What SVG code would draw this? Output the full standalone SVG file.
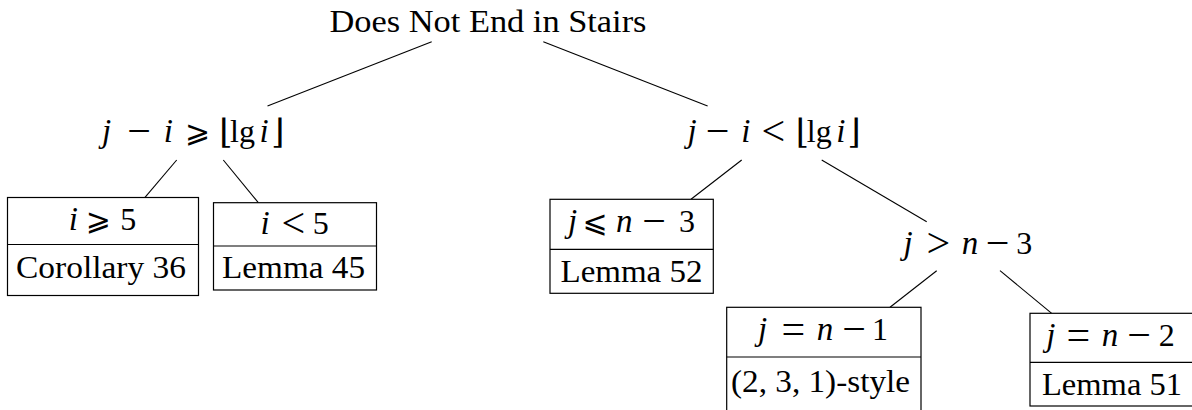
<svg xmlns="http://www.w3.org/2000/svg" width="1192" height="410" viewBox="0 0 1192 410">
<style>
  .t { font-family: "Liberation Serif", "DejaVu Serif", serif; font-size: 32px; fill: #000; }
  .m { font-family: "Liberation Serif", "DejaVu Serif", serif; font-size: 32px; fill: #000; text-anchor: middle; }
  .it { font-style: italic; font-size: 33px; }
  .op { font-size: 42px; }
  .sy { font-family: "DejaVu Serif", "DejaVu Sans", serif; font-size: 30px; }
  .br { font-family: "DejaVu Serif", "DejaVu Sans", serif; font-size: 34px; }
  .box { fill: #fff; stroke: #000; stroke-width: 1.2; }
  .div { stroke: #000; stroke-width: 1.2; }
  .edge { stroke: #000; stroke-width: 1.1; fill: none; }
</style>
<rect width="1192" height="410" fill="#fff"/>

<g id="connectors">
  <line class="edge" x1="431.7" y1="41.7" x2="267.5" y2="106"/>
  <line class="edge" x1="543.3" y1="41.7" x2="707.6" y2="106"/>
  <line class="edge" x1="176.7" y1="160" x2="145" y2="197.3"/>
  <line class="edge" x1="223.3" y1="160" x2="258.3" y2="202.7"/>
  <line class="edge" x1="741.7" y1="160" x2="691" y2="199.3"/>
  <line class="edge" x1="821.7" y1="160" x2="926.7" y2="221.7"/>
  <line class="edge" x1="936.7" y1="270.7" x2="890" y2="307.3"/>
  <line class="edge" x1="1000" y1="270.7" x2="1051.7" y2="313.3"/>
</g>

<g id="root">
  <text class="t" x="488" y="31.5" text-anchor="middle" textLength="317" lengthAdjust="spacingAndGlyphs">Does Not End in Stairs</text>
</g>

<g id="left-mid">
  <text class="m"><tspan class="it" x="106.7" y="141.5">j</tspan><tspan class="op" x="139.2" y="144.5">−</tspan><tspan class="it" x="168.3" y="141.5">i</tspan><tspan class="sy" x="197.5" y="141.5">⩾</tspan><tspan class="br" x="225.8" y="143">⌊</tspan><tspan x="242.5" y="141.5">lg</tspan><tspan class="it" x="264.2" y="141.5">i</tspan><tspan class="br" x="278" y="143">⌋</tspan></text>
</g>

<g id="right-mid">
  <text class="m"><tspan class="it" x="692" y="141.5">j</tspan><tspan class="op" x="717.5" y="144.5">−</tspan><tspan class="it" x="745.8" y="141.5">i</tspan><tspan class="op" x="773.3" y="144.5">&lt;</tspan><tspan class="br" x="802.5" y="143">⌊</tspan><tspan x="819.2" y="141.5">lg</tspan><tspan class="it" x="840.8" y="141.5">i</tspan><tspan class="br" x="854.2" y="143">⌋</tspan></text>
</g>

<g id="corollary36">
  <rect class="box" x="7.5" y="197.5" width="191" height="98"/>
  <line class="div" x1="7.5" y1="244.5" x2="198.5" y2="244.5"/>
  <text class="m"><tspan class="it" x="73.3" y="230">i</tspan><tspan class="sy" x="98.3" y="230">⩾</tspan><tspan x="128.3" y="230">5</tspan></text>
  <text class="t" x="101" y="277.5" text-anchor="middle" textLength="170" lengthAdjust="spacingAndGlyphs">Corollary 36</text>
</g>

<g id="lemma45">
  <rect class="box" x="213.5" y="202.7" width="163" height="87.3"/>
  <line class="div" x1="213.5" y1="246" x2="376.5" y2="246"/>
  <text class="m"><tspan class="it" x="265" y="234">i</tspan><tspan class="op" x="293.3" y="237">&lt;</tspan><tspan x="320.8" y="234">5</tspan></text>
  <text class="t" x="293.5" y="278" text-anchor="middle" textLength="143" lengthAdjust="spacingAndGlyphs">Lemma 45</text>
</g>

<g id="lemma52">
  <rect class="box" x="550" y="199.3" width="163.3" height="94"/>
  <line class="div" x1="550" y1="249.3" x2="713.3" y2="249.3"/>
  <text class="m"><tspan class="it" x="572.5" y="232">j</tspan><tspan class="sy" x="595" y="232">⩽</tspan><tspan class="it" x="624.2" y="232">n</tspan><tspan class="op" x="654.2" y="235">−</tspan><tspan x="687" y="232">3</tspan></text>
  <text class="t" x="631.5" y="281.7" text-anchor="middle" textLength="142" lengthAdjust="spacingAndGlyphs">Lemma 52</text>
</g>

<g id="j-gt-n-3">
  <text class="m"><tspan class="it" x="908" y="254">j</tspan><tspan class="op" x="938.3" y="257">&gt;</tspan><tspan class="it" x="970" y="254">n</tspan><tspan class="op" x="997.5" y="257">−</tspan><tspan x="1024.2" y="254">3</tspan></text>
</g>

<g id="style231">
  <rect class="box" x="726.7" y="307.3" width="194.3" height="110"/>
  <line class="div" x1="726.7" y1="357" x2="921" y2="357"/>
  <text class="m"><tspan class="it" x="762.5" y="340">j</tspan><tspan class="op" x="793.3" y="343">=</tspan><tspan class="it" x="825" y="340">n</tspan><tspan class="op" x="854.2" y="343">−</tspan><tspan x="880" y="340">1</tspan></text>
  <text class="t" x="820.5" y="391.5" text-anchor="middle" textLength="179" lengthAdjust="spacingAndGlyphs">(2, 3, 1)-style</text>
</g>

<g id="lemma51">
  <rect class="box" x="1030" y="313.3" width="170" height="92.7"/>
  <line class="div" x1="1030" y1="362.3" x2="1200" y2="362.3"/>
  <text class="m"><tspan class="it" x="1050.8" y="346">j</tspan><tspan class="op" x="1078.3" y="349">=</tspan><tspan class="it" x="1110" y="346">n</tspan><tspan class="op" x="1139.2" y="349">−</tspan><tspan x="1166.7" y="346">2</tspan></text>
  <text class="t" x="1112" y="394.7" text-anchor="middle" textLength="140" lengthAdjust="spacingAndGlyphs">Lemma 51</text>
</g>
</svg>
